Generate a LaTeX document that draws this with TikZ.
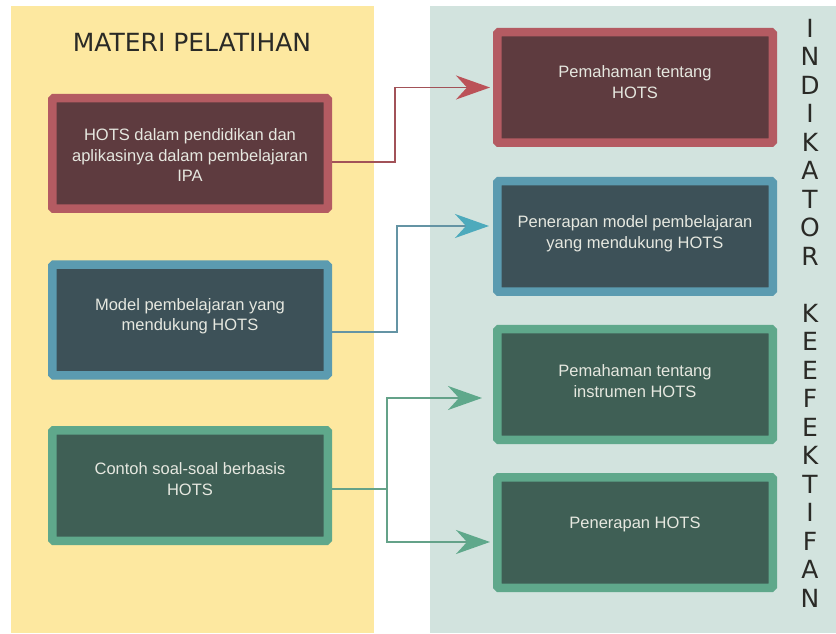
\documentclass[tikz,border=0pt]{standalone}
\usepackage{fontspec}
\setmainfont{Liberation Sans}
\newfontfamily\judulfont{DejaVu Sans}
\usepackage{xcolor}
\usepackage{tikz}
\usetikzlibrary{arrows.meta,positioning}

\definecolor{kuning}{HTML}{FDE8A0}
\definecolor{hijaumuda}{HTML}{D2E3DE}
\definecolor{merah}{HTML}{B45B62}
\definecolor{merahtua}{HTML}{5E3B3F}
\definecolor{biru}{HTML}{5B9BB0}
\definecolor{birutua}{HTML}{3D5158}
\definecolor{hijau}{HTML}{5FA88B}
\definecolor{hijautua}{HTML}{3F5F55}
\definecolor{teks}{HTML}{E6E8E0}
\definecolor{huruf}{HTML}{2A2A26}

\begin{document}
\begin{tikzpicture}[x=1pt,y=1pt,
    kotak/.style={rectangle,rounded corners=1.5pt,line width=8.5pt,
                  minimum width=275.5pt,minimum height=110.5pt},
    isi/.style={anchor=north,align=center,inner sep=0pt,text=teks,
                font=\fontsize{16.5}{20.5}\selectfont},
    panah/.style={line width=1.8pt,-{Stealth[length=34pt,width=24pt,inset=11pt,color=#1]}}]
    \useasboundingbox (0,0) rectangle (836,633);

    % latar
    \fill[kuning] (11,0) rectangle (374,627);
    \fill[hijaumuda] (430,0) rectangle (836,627);

    \node[name=judul,anchor=base,text=huruf,font=\judulfont\fontsize{25}{30}\selectfont] at (192,581) {MATERI PELATIHAN};
    \node[name=indikator,anchor=north,inner sep=0pt,align=center,text=huruf,
          font=\judulfont\fontsize{25}{28.5}\selectfont] at (810,614)
          {I\\N\\D\\I\\K\\A\\T\\O\\R\\[28.5pt]K\\E\\E\\F\\E\\K\\T\\I\\F\\A\\N};

    % materi
    \node[kotak,draw=merah,fill=merahtua,name=1] at (190,479.5) {};
    \node[kotak,draw=biru,fill=birutua,name=2, below of=1, node distance=166.5pt] {};
    \node[kotak,draw=hijau,fill=hijautua,name=3, below of=2, node distance=165.5pt] {};

    % indikator
    \node[kotak,draw=merah,fill=merahtua,name=4] at (635,545.5) {};
    \node[kotak,draw=biru,fill=birutua,name=5, below of=4, node distance=149pt] {};
    \node[kotak,draw=hijau,fill=hijautua,name=6, below of=5, node distance=148pt] {};
    \node[kotak,draw=hijau,fill=hijautua,name=7, below of=6, node distance=148pt] {};

    \node[isi,name=t1] at ([yshift=25pt]1.center) {HOTS dalam pendidikan dan\\aplikasinya dalam pembelajaran\\IPA};
    \node[isi,name=t2] at ([yshift=22pt]2.center) {Model pembelajaran yang\\mendukung HOTS};
    \node[isi,name=t3] at ([yshift=23pt]3.center) {Contoh soal-soal berbasis\\HOTS};
    \node[isi,name=t4] at ([yshift=22pt]4.center) {Pemahaman tentang\\HOTS};
    \node[isi,name=t5] at ([yshift=21pt]5.center) {Penerapan model pembelajaran\\yang mendukung HOTS};
    \node[isi,name=t6] at ([yshift=20pt]6.center) {Pemahaman tentang\\instrumen HOTS};
    \node[isi,name=t7] at ([yshift=16pt]7.center) {Penerapan HOTS};

    \coordinate (cabang) at ([xshift=55pt,yshift=-3.5pt]3.east);

    \draw[panah=merah!90!red,draw=merah!90!black,shorten >=3pt] ([yshift=-8.5pt]1.east) -- ++(63,0) |- (4.west);
    \draw[panah=biru!85!cyan,draw=biru!75!gray,shorten >=4pt] ([yshift=-12pt]2.east) -- ++(65,0) |- ([yshift=10.5pt]5.west);
    \draw[line width=1.8pt,draw=hijau!85!gray] ([yshift=-3.5pt]3.east) -- (cabang);
    \draw[panah=hijau,draw=hijau!85!gray,shorten >=11pt] (cabang) |- ([yshift=-13.5pt]6.west);
    \draw[panah=hijau,draw=hijau!85!gray,shorten >=3pt] (cabang) |- ([yshift=-9.5pt]7.west);
\end{tikzpicture}
\end{document}
